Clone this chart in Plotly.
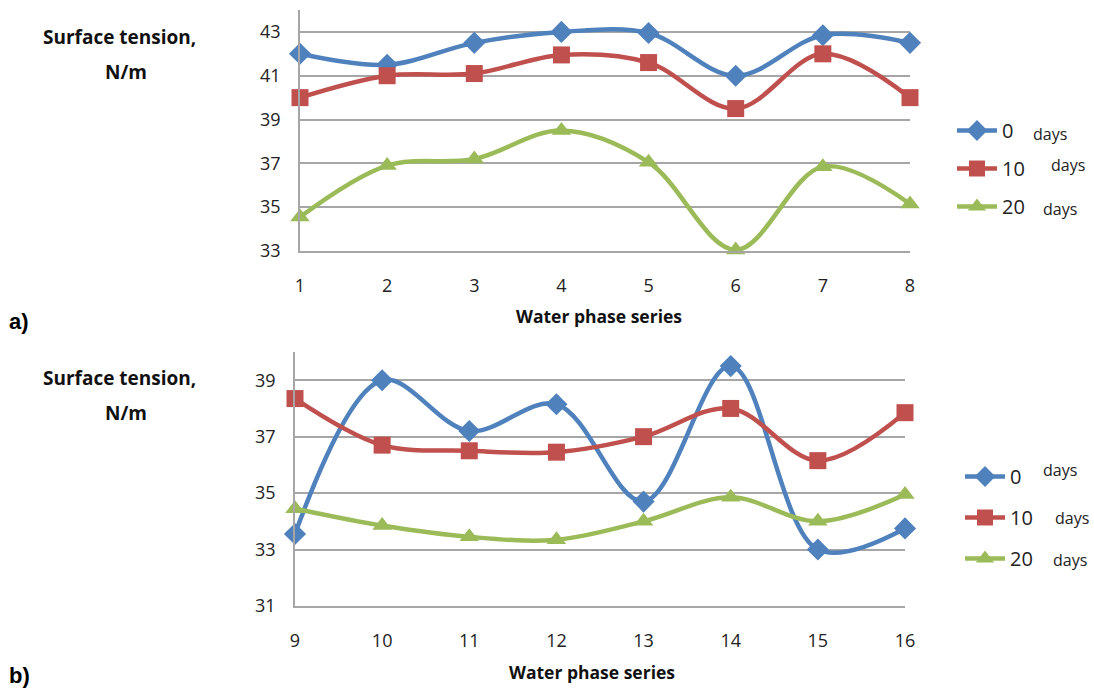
import plotly.graph_objects as go

W, H = 1094, 691

x_a = [1, 2, 3, 4, 5, 6, 7, 8]
a_0 = [42.0, 41.5, 42.5, 43.0, 42.95, 41.0, 42.85, 42.5]
a_10 = [40.0, 41.0, 41.1, 41.95, 41.6, 39.5, 42.0, 40.0]
a_20 = [34.55, 36.9, 37.2, 38.5, 37.05, 33.05, 36.85, 35.15]

x_b = [9, 10, 11, 12, 13, 14, 15, 16]
b_0 = [33.55, 39.0, 37.2, 38.15, 34.7, 39.5, 33.0, 33.75]
b_10 = [38.35, 36.7, 36.5, 36.45, 37.0, 38.0, 36.15, 37.85]
b_20 = [34.45, 33.85, 33.45, 33.35, 34.0, 34.85, 34.0, 34.95]

series_names = ["0", "10", "20"]
colors = ["#4F81BD", "#C0504D", "#9BBB59"]
symbols = ["diamond", "square", "triangle-up"]

fig = go.Figure()

def add_series(xs, ys_list, xaxis, yaxis, legend):
    for i, ys in enumerate(ys_list):
        fig.add_trace(go.Scatter(
            x=xs, y=ys, name=series_names[i], mode="lines+markers",
            line=dict(color=colors[i], width=4.5, shape="spline", smoothing=1.0),
            marker=dict(symbol=symbols[i], size=17, color=colors[i]),
            xaxis=xaxis, yaxis=yaxis, legend=legend, legendgroup=legend + str(i),
            cliponaxis=False,
        ))

add_series(x_a, [a_0, a_10, a_20], "x", "y", "legend")
add_series(x_b, [b_0, b_10, b_20], "x2", "y2", "legend2")

grid = "#A6A6A6"
tickfont = dict(family="Open Sans, Lato, sans-serif", size=18, color="#222")

def px_x(p):
    return p / W

def px_y(p):
    return 1 - p / H

common_x = dict(showgrid=False, showline=True, linecolor=grid, linewidth=1.5,
                tickfont=tickfont, ticks="", ticklabelstandoff=18, zeroline=False,
                dtick=1, automargin=False)
common_y = dict(showgrid=True, gridcolor=grid, gridwidth=1.5, showline=True,
                linecolor=grid, linewidth=1.5, tickfont=tickfont, ticks="",
                ticklabelstandoff=14, zeroline=False, dtick=2, automargin=False)

fig.update_layout(
    width=W, height=H, margin=dict(l=0, r=0, t=0, b=0, pad=0), autosize=False,
    paper_bgcolor="white", plot_bgcolor="white",
    xaxis=dict(domain=[px_x(300), px_x(910)], range=[1, 8], anchor="y", **common_x),
    yaxis=dict(domain=[px_y(251), px_y(10)], range=[33, 44], anchor="x",
               tick0=33, **common_y),
    xaxis2=dict(domain=[px_x(295), px_x(905)], range=[9, 16], anchor="y2", **common_x),
    yaxis2=dict(domain=[px_y(606), px_y(352)], range=[31, 40], anchor="x2",
                tick0=31, **common_y),
    legend=dict(x=px_x(952), y=px_y(111), xanchor="left", yanchor="top",
                font=dict(family="Open Sans, sans-serif", size=20, color="#222"),
                tracegroupgap=9, bgcolor="rgba(0,0,0,0)", itemwidth=40),
    legend2=dict(x=px_x(960), y=px_y(457), xanchor="left", yanchor="top",
                 font=dict(family="Open Sans, sans-serif", size=20, color="#222"),
                 tracegroupgap=12, bgcolor="rgba(0,0,0,0)", itemwidth=40),
)

def ann(xp, yp, text, font, xanchor="center"):
    fig.add_annotation(x=px_x(xp), y=px_y(yp), xref="paper", yref="paper",
                       xanchor=xanchor, yanchor="middle",
                       text=text, showarrow=False, font=font)

ann_font = dict(family="Open Sans, sans-serif", size=16, color="#222")
days_pos = [(1050, 134), (1068, 165), (1060, 209), (1060, 470), (1072, 518), (1070, 560)]
for (xp, yp) in days_pos:
    ann(xp, yp, "days", ann_font)

title_font = dict(family="Open Sans, sans-serif", size=19, color="#111")
for yp in (37, 378):
    ann(119, yp, "<b>Surface tension,</b>", title_font)
    ann(126, yp + 35, "<b>N/m</b>", title_font)

xt_font = dict(family="Open Sans, sans-serif", size=17.5, color="#111")
for (xp, yp) in [(599, 316), (592, 672)]:
    ann(xp, yp, "<b>Water phase series</b>", xt_font)

lab_font = dict(family="Liberation Sans, Arial, sans-serif", size=22, color="#000")
for (txt, yp) in [("a)", 321), ("b)", 675)]:
    ann(7, yp, "<b>" + txt + "</b>", lab_font, xanchor="left")

fig.write_html("out.html", post_script="document.body.style.margin='0';")
